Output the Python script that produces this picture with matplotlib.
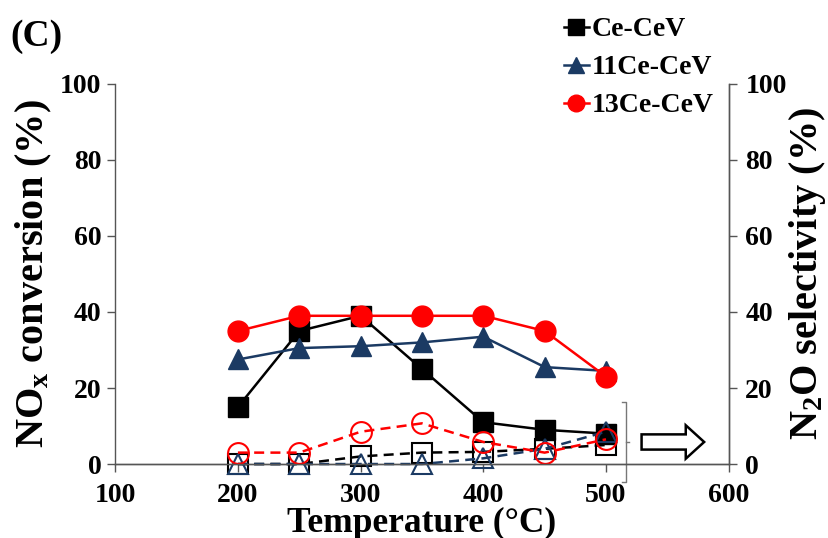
import numpy as np
import matplotlib.pyplot as plt
from matplotlib.patches import FancyArrow

plt.rcParams['font.family'] = ['Liberation Serif', 'DejaVu Serif']
plt.rcParams['font.weight'] = 'bold'
plt.rcParams['mathtext.fontset'] = 'custom'
plt.rcParams['mathtext.rm'] = 'Liberation Serif:bold'
plt.rcParams['mathtext.it'] = 'Liberation Serif:bold'

# Data
temperature = [200, 250, 300, 350, 400, 450, 500]

# NOx conversion (%) - solid lines, left axis
nox_ce = [15, 35, 39, 25, 11, 9, 8]
nox_11ce = [27.5, 30.5, 31, 32, 33.5, 25.5, 24.5]
nox_13ce = [35, 39, 39, 39, 39, 35, 23]

# N2O selectivity (%) - dashed lines, right axis
n2o_ce = [0, 0, 2, 3, 3.2, 4, 5]
n2o_11ce = [0, 0, 0, 0, 1.5, 4, 8.5]
n2o_13ce = [3, 3, 8.5, 10.7, 5.8, 3, 6.5]

labels = ['Ce-CeV', '11Ce-CeV', '13Ce-CeV']
colors = ['black', '#1b3a63', '#ff0000']
markers = ['s', '^', 'o']
msizes = [15, 15, 15]

fig = plt.figure(figsize=(8.29, 5.38), dpi=100)
ax = fig.add_axes([0.139, 0.1375, 0.740, 0.7065])
ax2 = ax.twinx()

handles = []
for y, c, m, ms, lab in zip([nox_ce, nox_11ce, nox_13ce], colors, markers, msizes, labels):
    h, = ax.plot(temperature, y, color=c, marker=m, markersize=ms, lw=1.8,
                 markeredgecolor=c, markerfacecolor=c, label=lab)
    handles.append(h)

for y, c, m, ms in zip([n2o_ce, n2o_11ce, n2o_13ce], colors, markers, msizes):
    ax2.plot(temperature, y, color=c, marker=m, markersize=ms, lw=1.8, ls=(0, (4, 2.5)),
             markeredgecolor=c, markerfacecolor='none', markeredgewidth=1.5, clip_on=False)

for a in (ax, ax2):
    a.set_xlim(100, 600)
    a.set_ylim(0, 100)
    a.set_yticks(np.arange(0, 101, 20))
    a.spines['top'].set_visible(False)
    for s in a.spines.values():
        s.set_color('#555555')
        s.set_linewidth(1.0)
    a.tick_params(direction='out', length=6, width=1.0, color='#555555',
                  labelsize=20)

ax.set_xticks(np.arange(100, 601, 100))
ax.tick_params(axis='x', pad=8)
ax.tick_params(axis='y', pad=4)
ax2.tick_params(axis='y', pad=6)
ax2.spines['left'].set_visible(False)

ax.set_xlabel('Temperature (°C)', fontsize=25.5, fontweight='bold', labelpad=-1)
ax.set_ylabel(r'NO$_\mathregular{x}$ conversion (%)', fontsize=29, fontweight='bold', labelpad=4)
ax2.set_ylabel(r'N$_\mathregular{2}$O selectivity (%)', fontsize=29, fontweight='bold', labelpad=0)

# bracket marking the N2O data and arrow towards right axis
bx, btop, bbot, bmid = 516, 16.3, -4.7, 5.8
ax.plot([bx - 3, bx, bx, bx - 3], [btop, btop, bbot, bbot], color='#777777', lw=1.0, clip_on=False)
ax.plot([bx, bx + 3], [bmid, bmid], color='#777777', lw=1.0, clip_on=False)
arrow = FancyArrow(529, bmid, 51, 0, width=4.0, head_width=8.8, head_length=15,
                   length_includes_head=True, facecolor='white', edgecolor='black', lw=1.8,
                   clip_on=False)
ax.add_patch(arrow)

fig.legend(handles=handles, loc='upper left', bbox_to_anchor=(0.65, 1.015),
           frameon=False, fontsize=20, handlelength=0.9, handletextpad=0.1,
           labelspacing=0.45, markerscale=0.8)

fig.text(0.012, 0.915, '(C)', fontsize=27, fontweight='bold')

fig.savefig('out.png', dpi=100)
